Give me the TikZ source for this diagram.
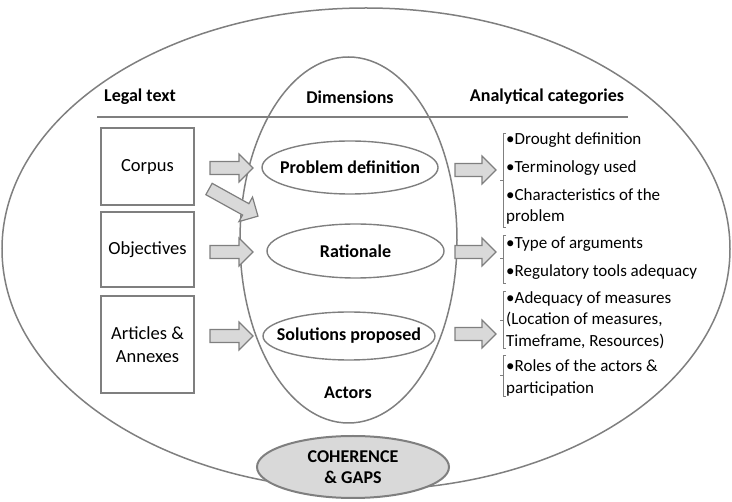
\documentclass[tikz,border=0pt]{standalone}
\usepackage{fontspec}
\setmainfont{Carlito}
\usetikzlibrary{shapes.geometric}
\definecolor{lg}{HTML}{7F7F7F}
\definecolor{af}{HTML}{D9D9D9}
\newcommand{\zw}[1]{\makebox[0pt]{#1}}
\begin{document}
\begin{tikzpicture}[x=1pt,y=-1pt,
  ell/.style={ellipse, draw=lg, line width=1.5pt, inner sep=0pt},
  dimell/.style={ellipse, draw=lg, line width=1.4pt, inner sep=0pt, font=\fontsize{18}{22}\selectfont\bfseries},
  box/.style={draw=lg, line width=1.2pt, minimum width=93pt, inner sep=0pt, align=center, font=\fontsize{18.5}{22.5}\selectfont},
  hdr/.style={font=\fontsize{18}{22}\selectfont\bfseries, inner sep=0pt},
  cat/.style={font=\fontsize{17}{21.5}\selectfont, align=left, anchor=west, inner sep=0pt},
  brk/.style={draw=lg, line width=0.6pt},
  barrow/.pic={\path[draw=lg, fill=af, line width=1.2pt] (0,-6.5) -- (#1-14,-6.5) -- (#1-14,-14) -- (#1,0) -- (#1-14,14) -- (#1-14,6.5) -- (0,6.5) -- cycle;}
]
\useasboundingbox (0,0) rectangle (732,502);
% outer and inner ellipses
\node[ell, minimum width=728pt, minimum height=482pt] (outer) at (366,249) {};
\node[ell, minimum width=217pt, minimum height=366pt] (dims) at (348.5,240) {};
% header line
\coordinate (l1) at (97,117);
\coordinate (l2) at (628,117);
\draw[lg, line width=2.5pt] (l1) -- (l2);
% headers
\node[hdr] (h1) at (140,97) {Legal text};
\node[hdr] (h2) at (350,97) {Dimensions};
\node[hdr] (h3) at (547,97) {Analytical categories};
% legal text boxes
\node[box, minimum height=77pt] (corpus) at (147.5,166.5) {Corpus};
\node[box, minimum height=75pt] (obj) at (147.5,249.5) {Objectives};
\node[box, minimum height=97pt] (art) at (147.5,344.5) {Articles \&\\Annexes};
% dimension ellipses
\node[dimell, minimum width=176pt, minimum height=53pt] (pd) at (350,167.5) {\zw{Problem definition}};
\node[dimell, minimum width=177pt, minimum height=54pt] (rat) at (355.5,251) {\zw{Rationale}};
\node[dimell, minimum width=172pt, minimum height=48pt] (sol) at (349,336) {\zw{Solutions proposed}};
\node[hdr] (act) at (348,393) {Actors};
% coherence
\node[ellipse, draw=lg, fill=af, line width=2pt, minimum width=192pt, minimum height=62pt, inner sep=0pt, align=center, font=\fontsize{18}{21}\selectfont\bfseries] (coh) at (353,467) {COHERENCE\\\& GAPS};
% block arrows
\pic (la1) at (210,168) {barrow=43};
\pic[rotate=-29] (la2) at (209,189) {barrow=56};
\pic (la3) at (210,252) {barrow=43};
\pic (la4) at (210,336) {barrow=43};
\pic (ra1) at (455,170) {barrow=41};
\pic (ra2) at (455,252) {barrow=41};
\pic (ra3) at (455,334) {barrow=41};
% brackets
\draw[brk] (506,133) -| (503,227) -- (506,227) (503,180) -- (500,180);
\draw[brk] (506,235) -| (503,283) -- (506,283) (503,258) -- (500,258);
\draw[brk] (506,291) -| (503,348) -- (506,348) (503,320) -- (500,320);
\draw[brk] (506,355) -| (503,396) -- (506,396) (503,375) -- (500,375);
% categories
\node[cat] (c1) at (506,140) {•Drought definition};
\node[cat] (c2) at (506,168) {•Terminology used};
\node[cat] (c3) at (506,206.5) {•Characteristics of the\\problem};
\node[cat] (c4) at (506,244) {•Type of arguments};
\node[cat] (c5) at (506,272) {•Regulatory tools adequacy};
\node[cat] (c6) at (506,320) {•Adequacy of measures\\(Location of measures,\\Timeframe, Resources)};
\node[cat] (c7) at (506,378) {•Roles of the actors \&\\participation};
\end{tikzpicture}
\end{document}
